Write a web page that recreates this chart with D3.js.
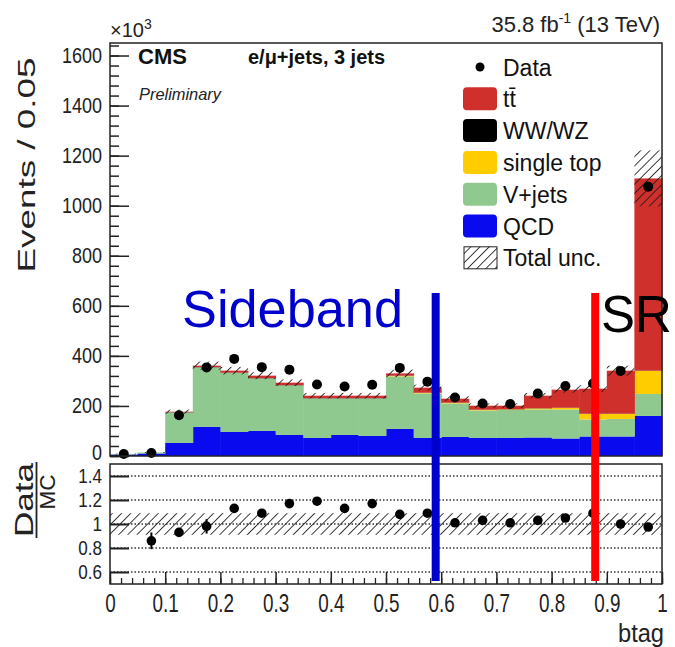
<!DOCTYPE html>
<html><head><meta charset="utf-8">
<script src="https://cdn.jsdelivr.net/npm/d3@7"></script>
<style>
body{margin:0;background:#fff}
svg{display:block}
text{font-family:"Liberation Sans",Arial,Helvetica,sans-serif}
</style>
</head><body>
<svg id="c" width="675" height="647"></svg>
<script>
// ---------------- data (values in units of 10^3 events) ----------------
const binCenters = [0.025,0.075,0.125,0.175,0.225,0.275,0.325,0.375,0.425,0.475,
                    0.525,0.575,0.625,0.675,0.725,0.775,0.825,0.875,0.925,0.975];
const binWidth = 0.05;
const qcd       = [6,10,52,116,96,100,84,72,84,80,108,72,76,72,72,74,70,78,78,160];
const vjets     = [2,4,122,238,236,210,198,158,146,150,210,178,134,110,112,112,116,68,70,88];
const singleTop = [0,0,0,0,0,0,0,0,0,0,2,2,2,2,2,4,6,22,20,92];
const wwwz      = [0,0,1,1,1,1,1,1,1,1,1,1,1,1,1,1,1,1,1,1];
const ttbar     = [0,0,2,6,8,10,10,10,10,10,9,20,16,16,14,50,72,100,172,768];
const dataCounts= [8,12,163,354,388,355,345,286,278,285,352,297,234,210,208,250,280,290,340,1076];
const mcUnc     = [2,2,8,16,15,14,13,11,11,11,15,12,10,9,9,11,12,14,20,112];
const ratioVals = [null,0.86,0.93,0.98,1.13,1.09,1.17,1.19,1.13,1.17,1.08,1.09,1.01,1.03,1.01,1.03,1.05,1.09,1.00,0.975];
const ratioErr  = [0,0.07,0.03,0.06,0.02,0.02,0.02,0.02,0.03,0.02,0.02,0.02,0.02,0.02,0.02,0.02,0.02,0.02,0.02,0.02];
const ratioBandUnc = 0.09;
const yTicksMain = [0,200,400,600,800,1000,1200,1400,1600];
const yTicksRatio = [0.6,0.8,1,1.2,1.4];
const xTicks = [0,0.1,0.2,0.3,0.4,0.5,0.6,0.7,0.8,0.9,1];
const xTickLabels = ["0","0.1","0.2","0.3","0.4","0.5","0.6","0.7","0.8","0.9","1"];
const seriesKeys = ["qcd","vjets","singleTop","wwwz","ttbar"];
const seriesColors = {qcd:"#0a0aee", vjets:"#8fc98f", singleTop:"#ffcc00", wwwz:"#000000", ttbar:"#d0302c"};
const legendLabels = ["Data","tt\u0304","WW/WZ","single top","V+jets","QCD","Total unc."];
const legendKeys   = ["data","ttbar","wwwz","singleTop","vjets","qcd","unc"];
const regionCuts = [0.59, 0.879];
const regionColors = ["#0000cc","#ff0000"];

// ---------------- setup ----------------
const svg = d3.select("#c");
const x  = d3.scaleLinear([0,1],[110,662]);
const y  = d3.scaleLinear([0,1650],[456,43]);
const yr = d3.scaleLinear([0.5,1.5],[584,464]);

const defs = svg.append("defs");
const pat = defs.append("pattern").attr("id","hatch").attr("patternUnits","userSpaceOnUse")
  .attr("width",6.5).attr("height",6.5).attr("patternTransform","rotate(45)");
pat.append("line").attr("x1",0).attr("y1",0).attr("x2",0).attr("y2",6.5)
  .attr("stroke","#1a1a1a").attr("stroke-width",1.7);

function fitLen(s, digitW){
  let w=0; for(const ch of s){ w += (ch==="." ? digitW*0.5 : digitW); } return w;
}

// ---------------- main panel ----------------
const rows = binCenters.map((c,i)=>({c, qcd:qcd[i], vjets:vjets[i], singleTop:singleTop[i], wwwz:wwwz[i], ttbar:ttbar[i]}));
const stacked = d3.stack().keys(seriesKeys)(rows);
const gMain = svg.append("g");
stacked.forEach(s=>{
  gMain.append("g").selectAll("rect").data(s).join("rect")
    .attr("x", d=>x(d.data.c-binWidth/2))
    .attr("width", d=>x(d.data.c+binWidth/2)-x(d.data.c-binWidth/2)+0.5)
    .attr("y", d=>y(d[1]))
    .attr("height", d=>Math.max(0,y(d[0])-y(d[1])))
    .attr("fill", seriesColors[s.key]);
});
const totals = rows.map(r=>seriesKeys.reduce((a,k)=>a+r[k],0));
gMain.append("g").selectAll("rect").data(binCenters).join("rect")
  .attr("x", c=>x(c-binWidth/2)).attr("width", c=>x(c+binWidth/2)-x(c-binWidth/2))
  .attr("y",(c,i)=>y(totals[i]+mcUnc[i]))
  .attr("height",(c,i)=>y(totals[i]-mcUnc[i])-y(totals[i]+mcUnc[i]))
  .attr("fill","url(#hatch)");
gMain.append("g").selectAll("circle").data(binCenters).join("circle")
  .attr("cx", c=>x(c)).attr("cy",(c,i)=>y(dataCounts[i])).attr("r",5).attr("fill","#000");

// frame
svg.append("rect").attr("x",110).attr("y",43).attr("width",552).attr("height",413)
  .attr("fill","none").attr("stroke","#222").attr("stroke-width",1.5);

// main y axis
const minorMain = d3.range(0,1650,40);
svg.append("g").attr("transform","translate(110,0)")
  .call(d3.axisLeft(y).tickValues(minorMain).tickSize(-9).tickFormat(""))
  .call(g=>g.select(".domain").remove())
  .call(g=>g.selectAll("line").attr("stroke","#222").attr("stroke-width",1.5));
const yAx = svg.append("g").attr("transform","translate(110,0)")
  .call(d3.axisLeft(y).tickValues(yTicksMain).tickSize(-19).tickPadding(8).tickFormat(d3.format("d")));
yAx.select(".domain").remove();
yAx.selectAll("line").attr("stroke","#222").attr("stroke-width",1.5);
yAx.selectAll("text").attr("font-size",22).attr("fill","#222")
  .attr("font-family","'Liberation Sans',Arial,sans-serif")
  .attr("y",d=>d===0?-4:0)
  .attr("textLength",d=>fitLen(String(d),10)).attr("lengthAdjust","spacingAndGlyphs");

// x10^3
const t103 = svg.append("text").attr("x",110).attr("y",37).attr("font-size",20).attr("fill","#222");
t103.append("tspan").text("\u00d710");
t103.append("tspan").attr("dy",-8).attr("font-size",14).text("3");

// lumi label
const lumi = svg.append("text").attr("x",660).attr("y",32).attr("text-anchor","end").attr("font-size",22).attr("fill","#222");
lumi.append("tspan").text("35.8 fb");
lumi.append("tspan").attr("dy",-9).attr("font-size",14).text("-1");
lumi.append("tspan").attr("dy",9).text(" (13 TeV)");

// CMS labels
svg.append("text").attr("x",138).attr("y",64).attr("font-size",22).attr("font-weight","bold").attr("fill","#111").text("CMS");
svg.append("text").attr("x",139).attr("y",100).attr("font-size",17).attr("font-style","italic").attr("fill","#222")
  .attr("textLength",82).attr("lengthAdjust","spacingAndGlyphs").text("Preliminary");
svg.append("text").attr("x",248).attr("y",64).attr("font-size",20).attr("font-weight","bold").attr("fill","#111")
  .attr("textLength",137).attr("lengthAdjust","spacingAndGlyphs").text("e/\u03bc+jets, 3 jets");

// y title
svg.append("text").attr("transform","translate(35,165) rotate(-90)").attr("text-anchor","middle")
  .attr("font-size",23).attr("fill","#222").attr("textLength",215).attr("lengthAdjust","spacingAndGlyphs")
  .text("Events / 0.05");

// legend
const lg = svg.append("g");
legendKeys.forEach((k,i)=>{
  const cy = 67 + i*31.8;
  if(k==="data"){
    lg.append("circle").attr("cx",480).attr("cy",cy).attr("r",4.5).attr("fill","#000");
  } else if(k==="unc"){
    lg.append("rect").attr("x",464).attr("y",cy-11).attr("width",33).attr("height",22)
      .attr("fill","url(#hatch)").attr("stroke","#222").attr("stroke-width",1);
  } else {
    lg.append("rect").attr("x",463).attr("y",cy-11.5).attr("width",34).attr("height",23).attr("rx",4)
      .attr("fill",seriesColors[k]);
  }
  lg.append("text").attr("x",503).attr("y",cy+8.5).attr("font-size",23).attr("fill","#111")
    .text(legendLabels[i]);
});

// ---------------- ratio panel ----------------
const gR = svg.append("g");
gR.append("rect").attr("x",110).attr("y",yr(1+ratioBandUnc)).attr("width",552)
  .attr("height",yr(1-ratioBandUnc)-yr(1+ratioBandUnc)).attr("fill","url(#hatch)");
gR.append("g").selectAll("line").data(yTicksRatio).join("line")
  .attr("x1",110).attr("x2",662).attr("y1",d=>yr(d)).attr("y2",d=>yr(d))
  .attr("stroke","#333").attr("stroke-width",1.5).attr("stroke-dasharray","1.5,2");
const rp = binCenters.map((c,i)=>({c,v:ratioVals[i],e:ratioErr[i]})).filter(d=>d.v!==null);
gR.append("g").selectAll("line").data(rp).join("line")
  .attr("x1",d=>x(d.c)).attr("x2",d=>x(d.c)).attr("y1",d=>yr(d.v+d.e)).attr("y2",d=>yr(d.v-d.e))
  .attr("stroke","#000").attr("stroke-width",2);
gR.append("g").selectAll("circle").data(rp).join("circle")
  .attr("cx",d=>x(d.c)).attr("cy",d=>yr(d.v)).attr("r",4.8).attr("fill","#000");
svg.append("rect").attr("x",110).attr("y",464).attr("width",552).attr("height",120)
  .attr("fill","none").attr("stroke","#222").attr("stroke-width",1.5);

const yrAx = svg.append("g").attr("transform","translate(110,0)")
  .call(d3.axisLeft(yr).tickValues(yTicksRatio).tickSize(-19).tickPadding(8).tickFormat(d=>String(d)));
yrAx.select(".domain").remove();
yrAx.selectAll("line").attr("stroke","#222").attr("stroke-width",2);
yrAx.selectAll("text").attr("font-size",20).attr("fill","#222")
  .attr("font-family","'Liberation Sans',Arial,sans-serif")
  .attr("textLength",d=>fitLen(String(d),9.5)).attr("lengthAdjust","spacingAndGlyphs");

// x axis (ratio bottom)
svg.append("g").attr("transform","translate(0,584)")
  .call(d3.axisBottom(x).tickValues(d3.range(0,1.0001,0.02)).tickSize(-6).tickFormat(""))
  .call(g=>g.select(".domain").remove())
  .call(g=>g.selectAll("line").attr("stroke","#222").attr("stroke-width",1.3));
const xAx = svg.append("g").attr("transform","translate(0,584)")
  .call(d3.axisBottom(x).tickValues(xTicks).tickSize(-12).tickPadding(10).tickFormat((d,i)=>xTickLabels[i]));
xAx.select(".domain").remove();
xAx.selectAll("line").attr("stroke","#222").attr("stroke-width",1.5);
xAx.selectAll("text").attr("font-size",26).attr("fill","#222")
  .attr("font-family","'Liberation Sans',Arial,sans-serif")
  .attr("textLength",(d,i)=>fitLen(xTickLabels[i],10.5)).attr("lengthAdjust","spacingAndGlyphs");

svg.append("text").attr("x",664).attr("y",642).attr("text-anchor","end").attr("font-size",26).attr("fill","#222")
  .attr("textLength",46).attr("lengthAdjust","spacingAndGlyphs").text("btag");

// Data/MC title
svg.append("text").attr("transform","translate(33,500) rotate(-90)").attr("text-anchor","middle")
  .attr("font-size",25).attr("fill","#222").attr("textLength",74).attr("lengthAdjust","spacingAndGlyphs").text("Data");
svg.append("line").attr("x1",36.5).attr("x2",36.5).attr("y1",462).attr("y2",538).attr("stroke","#222").attr("stroke-width",1.8);
svg.append("text").attr("transform","translate(55,492) rotate(-90)").attr("text-anchor","middle")
  .attr("font-size",22).attr("fill","#222").attr("textLength",35).attr("lengthAdjust","spacingAndGlyphs").text("MC");

// ---------------- annotations ----------------
regionCuts.forEach((c,i)=>{
  svg.append("line").attr("x1",x(c)).attr("x2",x(c)).attr("y1",293).attr("y2",581)
    .attr("stroke",regionColors[i]).attr("stroke-width",8);
});
svg.append("text").attr("x",182).attr("y",327).attr("font-size",51).attr("fill","#0000cc")
  .attr("textLength",221).attr("lengthAdjust","spacingAndGlyphs").text("Sideband");
svg.append("text").attr("x",601).attr("y",332).attr("font-size",51).attr("fill","#000").text("SR");
</script>
</body></html>
